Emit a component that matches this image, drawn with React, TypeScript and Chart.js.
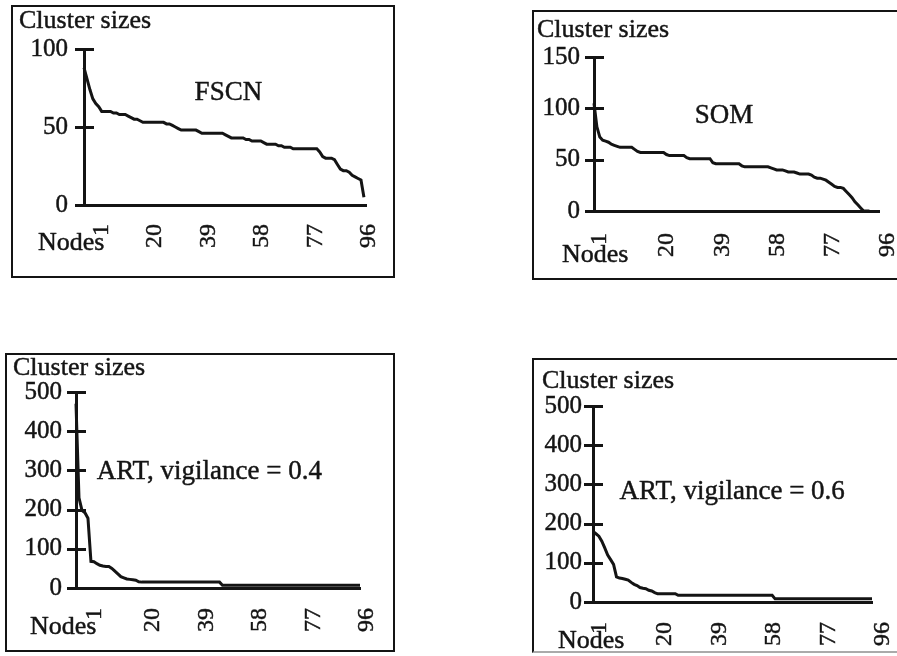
import React, { useEffect, useRef } from 'react';
import { Chart, registerables } from 'chart.js';

Chart.register(...registerables);

// ---------- data ----------
const NODE_TICKS = [1, 20, 39, 58, 77, 96];
const NODES = [
  1, 2, 3, 4, 5, 6, 7, 8, 9, 10, 11, 12, 13, 14, 15, 16, 17, 18, 19, 20,
  21, 22, 23, 24, 25, 26, 27, 28, 29, 30, 31, 32, 33, 34, 35, 36, 37, 38, 39, 40,
  41, 42, 43, 44, 45, 46, 47, 48, 49, 50, 51, 52, 53, 54, 55, 56, 57, 58, 59, 60,
  61, 62, 63, 64, 65, 66, 67, 68, 69, 70, 71, 72, 73, 74, 75, 76, 77, 78, 79, 80,
  81, 82, 83, 84, 85, 86, 87, 88, 89, 90, 91, 92, 93, 94, 95, 96,
];

const FSCN_SIZES = [
  88, 81, 74, 68, 65, 63, 60, 60, 60, 60,
  59, 59, 58, 58, 58, 57, 56, 55, 55, 54,
  53, 53, 53, 53, 53, 53, 53, 53, 52, 52,
  51, 50, 49, 48, 48, 48, 48, 48, 48, 47,
  46, 46, 46, 46, 46, 46, 46, 46, 45, 44,
  43, 43, 43, 43, 43, 42, 42, 41, 41, 41,
  41, 40, 39, 39, 39, 39, 38, 38, 37, 37,
  37, 36, 36, 36, 36, 36, 36, 36, 36, 36,
  34, 31, 30, 30, 30, 29, 26, 23, 22, 22,
  21, 19, 18, 17, 16, 5,
];

const SOM_SIZES = [
  105, 82, 72, 69, 68, 67, 65, 64, 63, 62,
  62, 62, 62, 62, 60, 58, 57, 57, 57, 57,
  57, 57, 57, 57, 57, 55, 54, 54, 54, 54,
  54, 54, 52, 51, 51, 51, 51, 51, 51, 51,
  51, 47, 46, 46, 46, 46, 46, 46, 46, 46,
  46, 44, 43, 43, 43, 43, 43, 43, 43, 43,
  43, 42, 41, 40, 40, 40, 39, 38, 38, 38,
  37, 36, 36, 36, 36, 35, 33, 32, 32, 31,
  30, 28, 26, 24, 23, 23, 22, 19, 16, 13,
  9, 6, 3, 0, 0, 0,
];

const ART04_SIZES = [
  470, 230, 198, 192, 178, 68, 67, 62, 58, 56,
  55, 55, 50, 43, 36, 29, 26, 23, 22, 21,
  20, 16, 15, 15, 15, 15, 15, 15, 15, 15,
  15, 15, 15, 15, 15, 15, 15, 15, 15, 15,
  15, 15, 15, 15, 15, 15, 15, 15, 15, 7,
  7, 7, 7, 7, 7, 7, 7, 7, 7, 7,
  7, 7, 7, 7, 7, 7, 7, 7, 7, 7,
  7, 7, 7, 7, 7, 7, 7, 7, 7, 7,
  7, 7, 7, 7, 7, 7, 7, 7, 7, 7,
  7, 7, 7, 7, 7, 7,
];

const ART06_SIZES = [
  180, 174, 168, 155, 138, 120, 108, 96, 64, 61,
  60, 58, 56, 50, 45, 42, 37, 35, 34, 30,
  28, 24, 21, 21, 21, 21, 21, 21, 21, 17,
  17, 17, 17, 17, 17, 17, 17, 17, 17, 17,
  17, 17, 17, 17, 17, 17, 17, 17, 17, 17,
  17, 17, 17, 17, 17, 17, 17, 17, 17, 17,
  17, 17, 8, 8, 8, 8, 8, 8, 8, 8,
  8, 8, 8, 8, 8, 8, 8, 8, 8, 8,
  8, 8, 8, 8, 8, 8, 8, 8, 8, 8,
  8, 8, 8, 8, 8, 8,
];

const FSCN_Y_TICKS = [0, 50, 100];
const SOM_Y_TICKS = [0, 50, 100, 150];
const ART_Y_TICKS = [0, 100, 200, 300, 400, 500];

const Y_TITLE = 'Cluster sizes';
const X_TITLE = 'Nodes';

// ---------- layout / style ----------
const INK = '#141414';
const SERIF = '"Liberation Serif", "Times New Roman", serif';
const TEXT_STROKE = 0.45;

type Panel = {
  key: string;
  label: string;
  values: number[];
  yTicks: number[];
  box: { left: number; top: number; w: number; h: number; bottomColor?: string };
  axis: { left: number; right: number; top: number; bottom: number };
  labelRange: [number, number];
  firstTickAt: number;
  dataMax: number;
  yPad: number;
  xPad: number;
  yTitle: [number, number];
  xTitle: [number, number];
  labelAt: [number, number];
};

const PANELS: Panel[] = [
  {
    key: 'fscn', label: 'FSCN', values: FSCN_SIZES, yTicks: FSCN_Y_TICKS,
    box: { left: 11, top: 5, w: 384, h: 273 },
    axis: { left: 84, right: 366, top: 49, bottom: 205 },
    labelRange: [-5.21, 94.93], firstTickAt: 1, dataMax: 96.7,
    yPad: 16, xPad: 19,
    yTitle: [19, 28], xTitle: [38, 250], labelAt: [50, 67.5],
  },
  {
    key: 'som', label: 'SOM', values: SOM_SIZES, yTicks: SOM_Y_TICKS,
    box: { left: 532, top: 10, w: 380, h: 270 },
    axis: { left: 594, right: 879, top: 57, bottom: 211 },
    labelRange: [-5.1, 92.9], firstTickAt: -3.04, dataMax: 99.3,
    yPad: 14, xPad: 22,
    yTitle: [537, 37], xTitle: [562, 262], labelAt: [45.8, 85.4],
  },
  {
    key: 'art04', label: 'ART, vigilance = 0.4', values: ART04_SIZES, yTicks: ART_Y_TICKS,
    box: { left: 5, top: 353, w: 390, h: 299 },
    axis: { left: 76, right: 360, top: 392, bottom: 588 },
    labelRange: [-7.34, 93.5], firstTickAt: -0.6, dataMax: 96,
    yPad: 14, xPad: 20,
    yTitle: [13, 375], xTitle: [30, 634], labelAt: [45.6, 279],
  },
  {
    key: 'art06', label: 'ART, vigilance = 0.6', values: ART06_SIZES, yTicks: ART_Y_TICKS,
    box: { left: 532, top: 358, w: 380, h: 295, bottomColor: '#aaa' },
    axis: { left: 593, right: 872, top: 406, bottom: 602 },
    labelRange: [-5.1, 92.2], firstTickAt: -2.66, dataMax: 96,
    yPad: 11, xPad: 20,
    yTitle: [542, 388], xTitle: [558, 648], labelAt: [48.4, 262.6],
  },
];

function drawText(ctx: CanvasRenderingContext2D, text: string, x: number, y: number) {
  ctx.strokeText(text, x, y);
  ctx.fillText(text, x, y);
}

function decorPlugin(p: Panel) {
  const ox = p.box.left + 2;
  const oy = p.box.top + 2;
  return {
    id: 'decor_' + p.key,
    afterDraw(chart: any) {
      const ctx = chart.ctx as CanvasRenderingContext2D;
      const ys = chart.scales.y;
      const xd = chart.scales.xd;
      const area = chart.chartArea;
      ctx.save();
      ctx.strokeStyle = INK;
      ctx.lineWidth = 3;
      ys.ticks.forEach((t: any) => {
        const py = Math.round(ys.getPixelForValue(t.value)) + 0.5;
        ctx.beginPath();
        ctx.moveTo(area.left - 9, py);
        ctx.lineTo(area.left + 10, py);
        ctx.stroke();
      });
      ctx.fillStyle = INK;
      ctx.lineWidth = TEXT_STROKE;
      ctx.lineJoin = 'round';
      ctx.textAlign = 'left';
      ctx.textBaseline = 'alphabetic';
      ctx.font = `26px ${SERIF}`;
      drawText(ctx, Y_TITLE, p.yTitle[0] - ox, p.yTitle[1] - oy);
      drawText(ctx, X_TITLE, p.xTitle[0] - ox, p.xTitle[1] - oy);
      ctx.font = `27px ${SERIF}`;
      ctx.textAlign = 'center';
      drawText(ctx, p.label, xd.getPixelForValue(p.labelAt[0]), ys.getPixelForValue(p.labelAt[1]));
      ctx.restore();
    },
  };
}

function PanelChart({ p }: { p: Panel }) {
  const ref = useRef<HTMLCanvasElement>(null);
  const innerW = p.box.w - 4;
  const innerH = p.box.h - 4;

  useEffect(() => {
    const canvas = ref.current;
    if (!canvas) return;
    const ox = p.box.left + 2;
    const oy = p.box.top + 2;
    const left = p.axis.left - ox;
    const right = p.axis.right - ox;
    const top = p.axis.top - oy;
    const bottom = p.axis.bottom - oy;

    const chart = new Chart(canvas, {
      type: 'line',
      data: {
        datasets: [
          {
            data: p.values.map((v, i) => ({ x: NODES[i], y: v })),
            xAxisID: 'xd',
            yAxisID: 'y',
            borderColor: INK,
            borderWidth: 3,
            pointRadius: 0,
            tension: 0,
            fill: false,
            clip: false,
          } as any,
        ],
      },
      options: {
        responsive: false,
        maintainAspectRatio: false,
        animation: false,
        events: [],
        layout: { padding: { left: 0, top, right: innerW - right, bottom: 0 } },
        plugins: {
          legend: { display: false },
          tooltip: { enabled: false },
          title: { display: false },
        },
        scales: {
          x: {
            type: 'linear',
            position: 'bottom',
            min: p.labelRange[0],
            max: p.labelRange[1],
            grid: { display: false, drawTicks: false },
            border: { display: true, color: INK, width: 3 },
            ticks: {
              autoSkip: false,
              minRotation: 90,
              maxRotation: 90,
              padding: p.xPad,
              color: INK,
              textStrokeColor: INK,
              textStrokeWidth: TEXT_STROKE,
              font: { family: SERIF, size: 24 },
              callback: (_v: any, i: number) => String(NODE_TICKS[i]),
            },
            afterBuildTicks: (s: any) => {
              s.ticks = NODE_TICKS.map((n, i) => ({ value: i === 0 ? p.firstTickAt : n }));
            },
            afterFit: (s: any) => {
              s.height = innerH - bottom;
              s.paddingLeft = 0;
              s.paddingRight = 0;
              s.paddingTop = 0;
              s.paddingBottom = 0;
            },
          } as any,
          xd: {
            type: 'linear',
            display: false,
            min: 1,
            max: p.dataMax,
          } as any,
          y: {
            type: 'linear',
            position: 'left',
            min: 0,
            max: p.yTicks[p.yTicks.length - 1],
            grid: { display: false, drawTicks: false },
            border: { display: true, color: INK, width: 3 },
            ticks: {
              padding: p.yPad,
              color: INK,
              textStrokeColor: INK,
              textStrokeWidth: TEXT_STROKE,
              font: { family: SERIF, size: 25 },
            },
            afterBuildTicks: (s: any) => {
              s.ticks = p.yTicks.map((v) => ({ value: v }));
            },
            afterFit: (s: any) => {
              s.width = left;
              s.paddingLeft = 0;
              s.paddingRight = 0;
              s.paddingTop = 0;
              s.paddingBottom = 0;
            },
          } as any,
        },
      },
      plugins: [decorPlugin(p) as any],
    });
    return () => chart.destroy();
  }, [p, innerW, innerH]);

  return (
    <div
      style={{
        position: 'absolute',
        left: p.box.left,
        top: p.box.top,
        width: p.box.w,
        height: p.box.h,
        boxSizing: 'border-box',
        border: `2px solid ${INK}`,
        borderBottomColor: p.box.bottomColor || INK,
        background: '#fff',
      }}
    >
      <canvas
        ref={ref}
        width={innerW}
        height={innerH}
        style={{ position: 'absolute', left: 0, top: 0, width: innerW, height: innerH, display: 'block' }}
      />
    </div>
  );
}

export default function App() {
  return (
    <div
      style={{
        position: 'fixed',
        left: 0,
        top: 0,
        width: 897,
        height: 656,
        overflow: 'hidden',
        background: '#fff',
      }}
    >
      {PANELS.map((p) => (
        <PanelChart key={p.key} p={p} />
      ))}
    </div>
  );
}
